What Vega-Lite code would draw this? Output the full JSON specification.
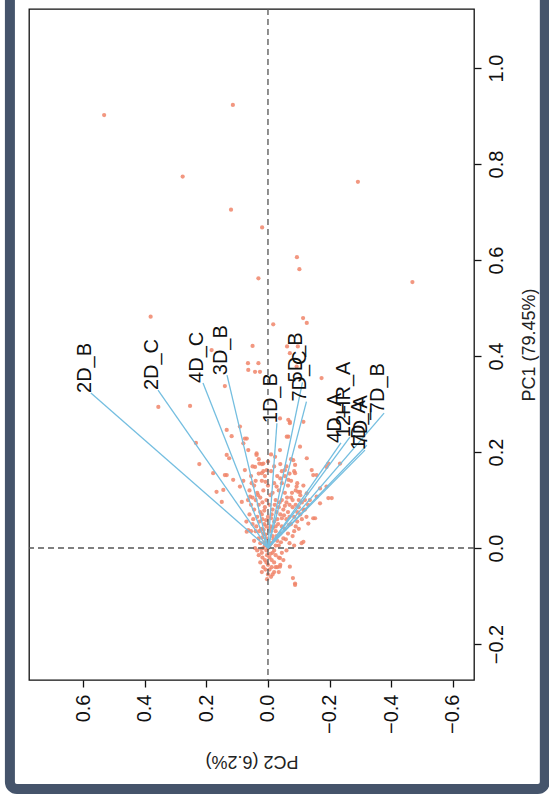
{
  "$schema": "https://vega.github.io/schema/vega-lite/v6.json",
  "autosize": {"type": "none"},
  "width": 445,
  "height": 671,
  "padding": {"left": 29, "top": 9, "right": 75, "bottom": 121},
  "background": "white",
  "config": {
    "view": {"stroke": "#111111", "strokeWidth": 1.3},
    "font": "Liberation Sans",
    "axis": {"grid": false, "domain": false, "tickColor": "#111111", "tickSize": 7, "tickWidth": 1.3, "labelFont": "Liberation Sans", "labelFontSize": 20, "labelColor": "#111111", "titleFont": "Liberation Sans", "titleFontSize": 18, "titleFontWeight": "normal", "titleColor": "#222222"}
  },
  "datasets": {
    "pts": [
      {"pc2": 0.532, "pc1": 0.902}, {"pc2": 0.114, "pc1": 0.923}, {"pc2": 0.277, "pc1": 0.774}, {"pc2": -0.292, "pc1": 0.763}, {"pc2": 0.12, "pc1": 0.705}, {"pc2": 0.019, "pc1": 0.668}, {"pc2": -0.094, "pc1": 0.606}, {"pc2": -0.102, "pc1": 0.581}, {"pc2": -0.469, "pc1": 0.554}, {"pc2": 0.031, "pc1": 0.562}, {"pc2": 0.381, "pc1": 0.482}, {"pc2": -0.017, "pc1": 0.466}, {"pc2": -0.114, "pc1": 0.479}, {"pc2": -0.126, "pc1": 0.469}, {"pc2": 0.05, "pc1": 0.421}, {"pc2": -0.062, "pc1": 0.42}, {"pc2": -0.097, "pc1": 0.42}, {"pc2": 0.356, "pc1": 0.294}, {"pc2": 0.253, "pc1": 0.296}, {"pc2": 0.14, "pc1": 0.3375}, {"pc2": 0.042, "pc1": 0.367}, {"pc2": 0.031, "pc1": 0.385}, {"pc2": 0.064, "pc1": 0.371}, {"pc2": -0.071, "pc1": 0.406}, {"pc2": -0.174, "pc1": 0.354}, {"pc2": 0.026, "pc1": 0.367}, {"pc2": -0.093, "pc1": 0.378}, {"pc2": -0.039, "pc1": 0.27}, {"pc2": -0.071, "pc1": 0.263}, {"pc2": 0.183, "pc1": 0.4125}, {"pc2": 0.065, "pc1": 0.385}, {"pc2": 0.091, "pc1": 0.253}, {"pc2": -0.066, "pc1": 0.267}, {"pc2": -0.19, "pc1": 0.169},
      {"pc2": 0.234, "pc1": 0.219}, {"pc2": 0.118, "pc1": 0.233}, {"pc2": 0.134, "pc1": 0.246}, {"pc2": 0.223, "pc1": 0.175}, {"pc2": 0.178, "pc1": 0.156}, {"pc2": 0.134, "pc1": 0.194}, {"pc2": 0.126, "pc1": 0.187}, {"pc2": 0.134, "pc1": 0.152}, {"pc2": 0.08, "pc1": 0.218}, {"pc2": 0.069, "pc1": 0.228}, {"pc2": 0.064, "pc1": 0.204}, {"pc2": 0.075, "pc1": 0.1625}, {"pc2": 0.053, "pc1": 0.135}, {"pc2": 0.037, "pc1": 0.197}, {"pc2": 0.028, "pc1": 0.176}, {"pc2": 0.042, "pc1": 0.169}, {"pc2": 0.015, "pc1": 0.176}, {"pc2": 0.02, "pc1": 0.156}, {"pc2": 0.004, "pc1": 0.1625}, {"pc2": 0.058, "pc1": 0.107}, {"pc2": 0.091, "pc1": 0.128}, {"pc2": 0.113, "pc1": 0.142}, {"pc2": 0.167, "pc1": 0.117}, {"pc2": 0.145, "pc1": 0.121}, {"pc2": 0.075, "pc1": 0.228}, {"pc2": 0.037, "pc1": 0.194}, {"pc2": 0.14, "pc1": 0.152}, {"pc2": 0.085, "pc1": 0.096}, {"pc2": 0.064, "pc1": 0.0375}, {"pc2": 0.15, "pc1": 0.096}, {"pc2": 0.069, "pc1": 0.034},
      {"pc2": -0.066, "pc1": 0.232}, {"pc2": -0.104, "pc1": 0.211}, {"pc2": -0.126, "pc1": 0.187}, {"pc2": -0.142, "pc1": 0.1625}, {"pc2": -0.158, "pc1": 0.152}, {"pc2": -0.196, "pc1": 0.176}, {"pc2": -0.234, "pc1": 0.176}, {"pc2": -0.169, "pc1": 0.124}, {"pc2": -0.19, "pc1": 0.128}, {"pc2": -0.082, "pc1": 0.183}, {"pc2": -0.088, "pc1": 0.173}, {"pc2": -0.071, "pc1": 0.26}, {"pc2": -0.115, "pc1": 0.263}, {"pc2": -0.039, "pc1": 0.204}, {"pc2": -0.023, "pc1": 0.19}, {"pc2": -0.055, "pc1": 0.1625}, {"pc2": -0.066, "pc1": 0.142}, {"pc2": -0.093, "pc1": 0.128}, {"pc2": -0.104, "pc1": 0.117}, {"pc2": -0.126, "pc1": 0.114}, {"pc2": -0.061, "pc1": 0.232}, {"pc2": -0.147, "pc1": 0.152}, {"pc2": -0.207, "pc1": 0.104}, {"pc2": -0.169, "pc1": 0.093}, {"pc2": -0.147, "pc1": 0.062}, {"pc2": -0.131, "pc1": 0.051}, {"pc2": -0.109, "pc1": 0.01}, {"pc2": -0.039, "pc1": -0.039}, {"pc2": -0.071, "pc1": -0.039}, {"pc2": -0.088, "pc1": -0.074}, {"pc2": -0.088, "pc1": 0.156}, {"pc2": -0.098, "pc1": 0.117}, {"pc2": -0.158, "pc1": 0.107}, {"pc2": -0.115, "pc1": 0.079}, {"pc2": -0.136, "pc1": 0.1}, {"pc2": -0.196, "pc1": 0.104}, {"pc2": -0.153, "pc1": 0.062}, {"pc2": -0.088, "pc1": -0.077}, {"pc2": -0.039, "pc1": -0.021}, {"pc2": -0.115, "pc1": 0.013}, {"pc2": -0.081, "pc1": -0.0625},
      {"pc2": 0.0, "pc1": 0.0}, {"pc2": 0.01, "pc1": 0.005}, {"pc2": -0.01, "pc1": 0.01}, {"pc2": 0.02, "pc1": -0.01}, {"pc2": -0.02, "pc1": -0.005}, {"pc2": 0.005, "pc1": 0.02}, {"pc2": -0.015, "pc1": 0.025}, {"pc2": 0.015, "pc1": 0.03}, {"pc2": -0.03, "pc1": 0.015}, {"pc2": 0.025, "pc1": 0.01}, {"pc2": -0.005, "pc1": -0.02}, {"pc2": 0.01, "pc1": -0.025}, {"pc2": -0.02, "pc1": -0.03}, {"pc2": 0.0, "pc1": -0.035}, {"pc2": 0.008, "pc1": -0.045}, {"pc2": -0.012, "pc1": -0.04}, {"pc2": 0.018, "pc1": -0.02}, {"pc2": -0.025, "pc1": 0.035}, {"pc2": 0.03, "pc1": 0.02}, {"pc2": -0.035, "pc1": 0.005}, {"pc2": 0.035, "pc1": -0.005}, {"pc2": -0.04, "pc1": 0.03}, {"pc2": 0.022, "pc1": 0.04}, {"pc2": -0.008, "pc1": 0.045}, {"pc2": 0.012, "pc1": 0.05}, {"pc2": -0.02, "pc1": 0.055}, {"pc2": 0.028, "pc1": 0.055}, {"pc2": -0.045, "pc1": 0.045}, {"pc2": 0.04, "pc1": 0.035}, {"pc2": -0.05, "pc1": 0.02}, {"pc2": 0.045, "pc1": 0.015}, {"pc2": -0.055, "pc1": 0.04}, {"pc2": -0.03, "pc1": 0.06}, {"pc2": 0.0, "pc1": 0.065}, {"pc2": 0.02, "pc1": 0.07}, {"pc2": -0.04, "pc1": 0.07}, {"pc2": 0.035, "pc1": 0.065}, {"pc2": -0.06, "pc1": 0.06}, {"pc2": 0.05, "pc1": 0.05}, {"pc2": -0.015, "pc1": 0.08}, {"pc2": 0.01, "pc1": 0.085}, {"pc2": -0.035, "pc1": 0.085}, {"pc2": 0.03, "pc1": 0.09}, {"pc2": -0.05, "pc1": 0.08}, {"pc2": 0.045, "pc1": 0.08}, {"pc2": -0.065, "pc1": 0.075}, {"pc2": -0.025, "pc1": 0.1}, {"pc2": 0.005, "pc1": 0.1}, {"pc2": 0.025, "pc1": 0.105}, {"pc2": -0.045, "pc1": 0.1}, {"pc2": -0.06, "pc1": 0.095}, {"pc2": 0.04, "pc1": 0.1}, {"pc2": -0.07, "pc1": 0.09}, {"pc2": -0.015, "pc1": 0.115}, {"pc2": 0.015, "pc1": 0.12}, {"pc2": -0.035, "pc1": 0.12}, {"pc2": 0.035, "pc1": 0.115}, {"pc2": -0.055, "pc1": 0.115}, {"pc2": -0.075, "pc1": 0.105}, {"pc2": -0.08, "pc1": 0.085}, {"pc2": -0.085, "pc1": 0.065}, {"pc2": -0.075, "pc1": 0.05}, {"pc2": -0.09, "pc1": 0.045}, {"pc2": -0.065, "pc1": 0.03}, {"pc2": -0.08, "pc1": 0.025}, {"pc2": -0.07, "pc1": 0.01}, {"pc2": -0.06, "pc1": -0.005}, {"pc2": -0.045, "pc1": -0.01}, {"pc2": -0.05, "pc1": -0.025}, {"pc2": -0.035, "pc1": -0.02}, {"pc2": -0.03, "pc1": -0.04}, {"pc2": -0.02, "pc1": -0.05}, {"pc2": 0.025, "pc1": -0.03}, {"pc2": 0.03, "pc1": -0.015}, {"pc2": 0.0, "pc1": -0.055}, {"pc2": -0.01, "pc1": -0.06}, {"pc2": 0.015, "pc1": 0.0}, {"pc2": -0.005, "pc1": 0.035}, {"pc2": 0.005, "pc1": 0.045}, {"pc2": -0.025, "pc1": 0.045}, {"pc2": 0.018, "pc1": 0.06}, {"pc2": -0.012, "pc1": 0.07}, {"pc2": -0.022, "pc1": 0.09}, {"pc2": 0.0, "pc1": 0.13}, {"pc2": -0.02, "pc1": 0.135}, {"pc2": 0.02, "pc1": 0.14}, {"pc2": -0.045, "pc1": 0.135}, {"pc2": 0.045, "pc1": 0.13}, {"pc2": -0.065, "pc1": 0.13}, {"pc2": -0.09, "pc1": 0.12}, {"pc2": -0.1, "pc1": 0.1}, {"pc2": -0.095, "pc1": 0.075}, {"pc2": 0.055, "pc1": 0.09}, {"pc2": 0.06, "pc1": 0.07}, {"pc2": 0.055, "pc1": 0.035}, {"pc2": -0.1, "pc1": 0.04}, {"pc2": -0.11, "pc1": 0.06}, {"pc2": -0.085, "pc1": 0.005}, {"pc2": 0.042, "pc1": 0.0}, {"pc2": -0.04, "pc1": -0.035}, {"pc2": 0.01, "pc1": 0.15}, {"pc2": -0.01, "pc1": 0.16}, {"pc2": -0.03, "pc1": 0.15}, {"pc2": 0.03, "pc1": 0.155}, {"pc2": -0.055, "pc1": 0.15}, {"pc2": -0.075, "pc1": 0.14}, {"pc2": 0.06, "pc1": 0.12}, {"pc2": -0.12, "pc1": 0.08}, {"pc2": -0.105, "pc1": 0.11}, {"pc2": 0.065, "pc1": 0.1}, {"pc2": 0.07, "pc1": 0.055}, {"pc2": -0.06, "pc1": 0.17}, {"pc2": -0.04, "pc1": 0.175}, {"pc2": 0.0, "pc1": 0.18}, {"pc2": 0.02, "pc1": 0.175}, {"pc2": 0.05, "pc1": 0.17}, {"pc2": -0.085, "pc1": 0.16}, {"pc2": 0.08, "pc1": 0.14}, {"pc2": -0.115, "pc1": 0.13},
      {"pc2": -0.005, "pc1": 0.005}, {"pc2": 0.005, "pc1": -0.005}, {"pc2": -0.015, "pc1": -0.01}, {"pc2": 0.012, "pc1": 0.012}, {"pc2": -0.025, "pc1": 0.005}, {"pc2": 0.022, "pc1": -0.002}, {"pc2": -0.008, "pc1": -0.012}, {"pc2": 0.003, "pc1": -0.015}, {"pc2": -0.018, "pc1": 0.018}, {"pc2": 0.008, "pc1": 0.028}, {"pc2": -0.028, "pc1": 0.025}, {"pc2": 0.018, "pc1": 0.022}, {"pc2": -0.003, "pc1": 0.04}, {"pc2": 0.014, "pc1": 0.038}, {"pc2": -0.016, "pc1": 0.042}, {"pc2": -0.033, "pc1": 0.05}, {"pc2": 0.006, "pc1": 0.058}, {"pc2": -0.01, "pc1": 0.062}, {"pc2": 0.025, "pc1": 0.075}, {"pc2": -0.028, "pc1": 0.075}, {"pc2": -0.045, "pc1": 0.062}, {"pc2": 0.012, "pc1": 0.078}, {"pc2": -0.005, "pc1": 0.09}, {"pc2": 0.018, "pc1": 0.095}, {"pc2": -0.038, "pc1": 0.095}, {"pc2": -0.055, "pc1": 0.088}, {"pc2": 0.032, "pc1": 0.11}, {"pc2": -0.008, "pc1": 0.11}, {"pc2": -0.028, "pc1": 0.128}, {"pc2": 0.008, "pc1": 0.138}, {"pc2": -0.04, "pc1": 0.145}, {"pc2": -0.062, "pc1": 0.105}, {"pc2": -0.052, "pc1": 0.068}, {"pc2": -0.068, "pc1": 0.048}, {"pc2": -0.058, "pc1": 0.018}, {"pc2": -0.042, "pc1": 0.012}, {"pc2": -0.025, "pc1": -0.015}, {"pc2": -0.012, "pc1": -0.025}, {"pc2": 0.005, "pc1": -0.03}, {"pc2": -0.005, "pc1": -0.045}, {"pc2": 0.015, "pc1": -0.04}, {"pc2": -0.015, "pc1": -0.055}, {"pc2": 0.003, "pc1": -0.065}, {"pc2": -0.025, "pc1": -0.04}, {"pc2": 0.02, "pc1": -0.05}, {"pc2": -0.035, "pc1": -0.05}, {"pc2": 0.038, "pc1": 0.045}, {"pc2": 0.048, "pc1": 0.06}, {"pc2": 0.028, "pc1": 0.035}, {"pc2": -0.07, "pc1": 0.065}, {"pc2": -0.08, "pc1": 0.1}, {"pc2": -0.09, "pc1": 0.09}, {"pc2": -0.1, "pc1": 0.085}, {"pc2": -0.11, "pc1": 0.095}, {"pc2": -0.095, "pc1": 0.055}, {"pc2": -0.105, "pc1": 0.07}, {"pc2": -0.12, "pc1": 0.1}, {"pc2": -0.13, "pc1": 0.09}, {"pc2": -0.125, "pc1": 0.065}, {"pc2": -0.085, "pc1": 0.035}, {"pc2": -0.078, "pc1": 0.115}, {"pc2": -0.095, "pc1": 0.135}, {"pc2": 0.05, "pc1": 0.105}, {"pc2": 0.04, "pc1": 0.14}, {"pc2": 0.015, "pc1": 0.16}, {"pc2": -0.02, "pc1": 0.17}, {"pc2": -0.045, "pc1": 0.16}, {"pc2": -0.07, "pc1": 0.155}, {"pc2": 0.03, "pc1": 0.185}, {"pc2": -0.01, "pc1": 0.195}, {"pc2": -0.075, "pc1": 0.185}, {"pc2": 0.055, "pc1": 0.15}
    ],
    "vars": [
      {"var": "2D_B", "pc2": 0.575, "pc1": 0.323},
      {"var": "2D_C", "pc2": 0.357, "pc1": 0.329},
      {"var": "4D_C", "pc2": 0.211, "pc1": 0.344},
      {"var": "3D_B", "pc2": 0.133, "pc1": 0.36},
      {"var": "1D_B", "pc2": -0.029, "pc1": 0.26},
      {"var": "5D_B", "pc2": -0.112, "pc1": 0.345},
      {"var": "7D_C", "pc2": -0.125, "pc1": 0.305},
      {"var": "4D_A", "pc2": -0.237, "pc1": 0.219},
      {"var": "12HR_A", "pc2": -0.266, "pc1": 0.231},
      {"var": "1D_A", "pc2": -0.315, "pc1": 0.204},
      {"var": "7D_A", "pc2": -0.321, "pc1": 0.214},
      {"var": "7D_B", "pc2": -0.377, "pc1": 0.281}
    ],
    "one": [{"k": 1}]
  },
  "layer": [
    {
      "data": {"name": "pts"},
      "mark": {"type": "circle", "size": 18, "color": "#f0856a", "opacity": 0.85},
      "encoding": {
        "x": {"field": "pc2", "type": "quantitative", "scale": {"domain": [-0.669, 0.776], "reverse": true, "nice": false, "zero": false},
          "axis": {"orient": "bottom", "values": [-0.6, -0.4, -0.2, 0, 0.2, 0.4, 0.6], "format": ".1f", "labelAngle": -90, "labelPadding": 7, "title": "PC2 (6.2%)", "titleAngle": 180, "titleBaseline": "bottom", "titlePadding": 18}},
        "y": {"field": "pc1", "type": "quantitative", "scale": {"domain": [-0.275, 1.123], "nice": false, "zero": false},
          "axis": {"orient": "right", "values": [-0.2, 0, 0.2, 0.4, 0.6, 0.8, 1.0], "format": ".1f", "labelAngle": -90, "labelPadding": 5, "title": "PC1 (79.45%)", "titleAngle": -90, "titlePadding": 32}}
      }
    },
    {
      "data": {"name": "one"},
      "mark": {"type": "rule", "color": "#555555", "strokeDash": [6, 4], "strokeWidth": 1.3},
      "encoding": {"x": {"datum": 0, "type": "quantitative"}}
    },
    {
      "data": {"name": "one"},
      "mark": {"type": "rule", "color": "#555555", "strokeDash": [6, 4], "strokeWidth": 1.3},
      "encoding": {"y": {"datum": 0, "type": "quantitative"}}
    },
    {
      "data": {"name": "vars"},
      "mark": {"type": "rule", "color": "#74bee0", "strokeWidth": 1.3},
      "encoding": {
        "x": {"field": "pc2", "type": "quantitative"},
        "y": {"field": "pc1", "type": "quantitative"},
        "x2": {"datum": 0},
        "y2": {"datum": 0}
      }
    },
    {
      "data": {"name": "vars"},
      "mark": {"type": "text", "angle": -90, "align": "left", "baseline": "alphabetic", "font": "Liberation Sans", "fontSize": 20, "color": "#111111"},
      "encoding": {
        "x": {"field": "pc2", "type": "quantitative"},
        "y": {"field": "pc1", "type": "quantitative"},
        "text": {"field": "var"}
      }
    },
    {
      "data": {"name": "one"},
      "mark": {"type": "rect", "clip": false, "fill": "white", "fillOpacity": 0, "stroke": "#45546b", "strokeWidth": 10, "cornerRadius": 7},
      "encoding": {
        "x": {"datum": 0.838, "type": "quantitative"},
        "x2": {"datum": -0.899},
        "y": {"datum": -0.502, "type": "quantitative"},
        "y2": {"datum": 1.17}
      }
    }
  ]
}
